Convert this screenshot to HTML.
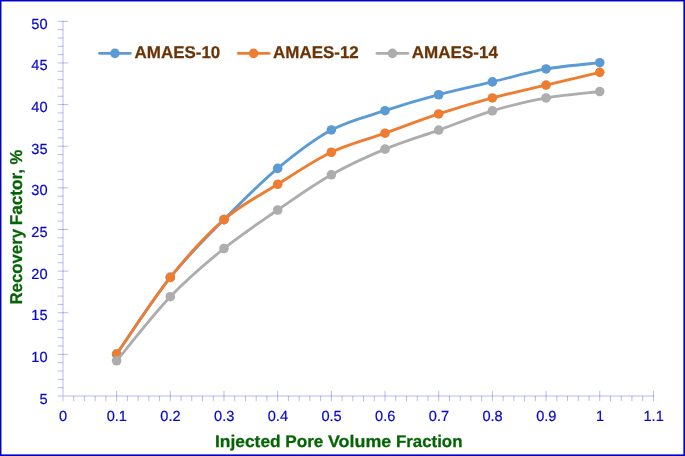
<!DOCTYPE html>
<html lang="en"><head><meta charset="utf-8"><title>Recovery Factor vs Injected Pore Volume Fraction</title>
<style>html,body{margin:0;padding:0;background:#fff;}body{width:685px;height:456px;overflow:hidden;}svg{display:block;}text{font-family:"Liberation Sans",sans-serif;text-rendering:geometricPrecision;}</style></head><body>
<svg width="685" height="456" viewBox="0 0 685 456">
<rect x="0" y="0" width="685" height="456" fill="#fff"/>
<g stroke="rgba(0,0,204,0.28)" stroke-width="1" fill="none">
<line x1="63.00" y1="20.83" x2="63.00" y2="395.50"/>
<line x1="62.50" y1="396.00" x2="653.93" y2="396.00"/>
<line x1="57.80" y1="396.00" x2="62.50" y2="396.00"/>
<line x1="57.80" y1="387.67" x2="63.00" y2="387.67"/>
<line x1="57.80" y1="379.35" x2="63.00" y2="379.35"/>
<line x1="57.80" y1="371.02" x2="63.00" y2="371.02"/>
<line x1="57.80" y1="362.70" x2="63.00" y2="362.70"/>
<line x1="57.80" y1="354.37" x2="68.30" y2="354.37"/>
<line x1="57.80" y1="346.04" x2="63.00" y2="346.04"/>
<line x1="57.80" y1="337.72" x2="63.00" y2="337.72"/>
<line x1="57.80" y1="329.39" x2="63.00" y2="329.39"/>
<line x1="57.80" y1="321.07" x2="63.00" y2="321.07"/>
<line x1="57.80" y1="312.74" x2="68.30" y2="312.74"/>
<line x1="57.80" y1="304.41" x2="63.00" y2="304.41"/>
<line x1="57.80" y1="296.09" x2="63.00" y2="296.09"/>
<line x1="57.80" y1="287.76" x2="63.00" y2="287.76"/>
<line x1="57.80" y1="279.44" x2="63.00" y2="279.44"/>
<line x1="57.80" y1="271.11" x2="68.30" y2="271.11"/>
<line x1="57.80" y1="262.78" x2="63.00" y2="262.78"/>
<line x1="57.80" y1="254.46" x2="63.00" y2="254.46"/>
<line x1="57.80" y1="246.13" x2="63.00" y2="246.13"/>
<line x1="57.80" y1="237.81" x2="63.00" y2="237.81"/>
<line x1="57.80" y1="229.48" x2="68.30" y2="229.48"/>
<line x1="57.80" y1="221.15" x2="63.00" y2="221.15"/>
<line x1="57.80" y1="212.83" x2="63.00" y2="212.83"/>
<line x1="57.80" y1="204.50" x2="63.00" y2="204.50"/>
<line x1="57.80" y1="196.18" x2="63.00" y2="196.18"/>
<line x1="57.80" y1="187.85" x2="68.30" y2="187.85"/>
<line x1="57.80" y1="179.52" x2="63.00" y2="179.52"/>
<line x1="57.80" y1="171.20" x2="63.00" y2="171.20"/>
<line x1="57.80" y1="162.87" x2="63.00" y2="162.87"/>
<line x1="57.80" y1="154.55" x2="63.00" y2="154.55"/>
<line x1="57.80" y1="146.22" x2="68.30" y2="146.22"/>
<line x1="57.80" y1="137.89" x2="63.00" y2="137.89"/>
<line x1="57.80" y1="129.57" x2="63.00" y2="129.57"/>
<line x1="57.80" y1="121.24" x2="63.00" y2="121.24"/>
<line x1="57.80" y1="112.92" x2="63.00" y2="112.92"/>
<line x1="57.80" y1="104.59" x2="68.30" y2="104.59"/>
<line x1="57.80" y1="96.26" x2="63.00" y2="96.26"/>
<line x1="57.80" y1="87.94" x2="63.00" y2="87.94"/>
<line x1="57.80" y1="79.61" x2="63.00" y2="79.61"/>
<line x1="57.80" y1="71.29" x2="63.00" y2="71.29"/>
<line x1="57.80" y1="62.96" x2="68.30" y2="62.96"/>
<line x1="57.80" y1="54.63" x2="63.00" y2="54.63"/>
<line x1="57.80" y1="46.31" x2="63.00" y2="46.31"/>
<line x1="57.80" y1="37.98" x2="63.00" y2="37.98"/>
<line x1="57.80" y1="29.66" x2="63.00" y2="29.66"/>
<line x1="57.80" y1="21.33" x2="68.30" y2="21.33"/>
<line x1="62.95" y1="396.50" x2="62.95" y2="401.20"/>
<line x1="73.69" y1="396.00" x2="73.69" y2="401.20"/>
<line x1="84.42" y1="396.00" x2="84.42" y2="401.20"/>
<line x1="95.16" y1="396.00" x2="95.16" y2="401.20"/>
<line x1="105.89" y1="396.00" x2="105.89" y2="401.20"/>
<line x1="116.63" y1="390.80" x2="116.63" y2="401.20"/>
<line x1="127.37" y1="396.00" x2="127.37" y2="401.20"/>
<line x1="138.10" y1="396.00" x2="138.10" y2="401.20"/>
<line x1="148.84" y1="396.00" x2="148.84" y2="401.20"/>
<line x1="159.57" y1="396.00" x2="159.57" y2="401.20"/>
<line x1="170.31" y1="390.80" x2="170.31" y2="401.20"/>
<line x1="181.05" y1="396.00" x2="181.05" y2="401.20"/>
<line x1="191.78" y1="396.00" x2="191.78" y2="401.20"/>
<line x1="202.52" y1="396.00" x2="202.52" y2="401.20"/>
<line x1="213.25" y1="396.00" x2="213.25" y2="401.20"/>
<line x1="223.99" y1="390.80" x2="223.99" y2="401.20"/>
<line x1="234.73" y1="396.00" x2="234.73" y2="401.20"/>
<line x1="245.46" y1="396.00" x2="245.46" y2="401.20"/>
<line x1="256.20" y1="396.00" x2="256.20" y2="401.20"/>
<line x1="266.93" y1="396.00" x2="266.93" y2="401.20"/>
<line x1="277.67" y1="390.80" x2="277.67" y2="401.20"/>
<line x1="288.41" y1="396.00" x2="288.41" y2="401.20"/>
<line x1="299.14" y1="396.00" x2="299.14" y2="401.20"/>
<line x1="309.88" y1="396.00" x2="309.88" y2="401.20"/>
<line x1="320.61" y1="396.00" x2="320.61" y2="401.20"/>
<line x1="331.35" y1="390.80" x2="331.35" y2="401.20"/>
<line x1="342.09" y1="396.00" x2="342.09" y2="401.20"/>
<line x1="352.82" y1="396.00" x2="352.82" y2="401.20"/>
<line x1="363.56" y1="396.00" x2="363.56" y2="401.20"/>
<line x1="374.29" y1="396.00" x2="374.29" y2="401.20"/>
<line x1="385.03" y1="390.80" x2="385.03" y2="401.20"/>
<line x1="395.77" y1="396.00" x2="395.77" y2="401.20"/>
<line x1="406.50" y1="396.00" x2="406.50" y2="401.20"/>
<line x1="417.24" y1="396.00" x2="417.24" y2="401.20"/>
<line x1="427.97" y1="396.00" x2="427.97" y2="401.20"/>
<line x1="438.71" y1="390.80" x2="438.71" y2="401.20"/>
<line x1="449.45" y1="396.00" x2="449.45" y2="401.20"/>
<line x1="460.18" y1="396.00" x2="460.18" y2="401.20"/>
<line x1="470.92" y1="396.00" x2="470.92" y2="401.20"/>
<line x1="481.65" y1="396.00" x2="481.65" y2="401.20"/>
<line x1="492.39" y1="390.80" x2="492.39" y2="401.20"/>
<line x1="503.13" y1="396.00" x2="503.13" y2="401.20"/>
<line x1="513.86" y1="396.00" x2="513.86" y2="401.20"/>
<line x1="524.60" y1="396.00" x2="524.60" y2="401.20"/>
<line x1="535.33" y1="396.00" x2="535.33" y2="401.20"/>
<line x1="546.07" y1="390.80" x2="546.07" y2="401.20"/>
<line x1="556.81" y1="396.00" x2="556.81" y2="401.20"/>
<line x1="567.54" y1="396.00" x2="567.54" y2="401.20"/>
<line x1="578.28" y1="396.00" x2="578.28" y2="401.20"/>
<line x1="589.01" y1="396.00" x2="589.01" y2="401.20"/>
<line x1="599.75" y1="390.80" x2="599.75" y2="401.20"/>
<line x1="610.49" y1="396.00" x2="610.49" y2="401.20"/>
<line x1="621.22" y1="396.00" x2="621.22" y2="401.20"/>
<line x1="631.96" y1="396.00" x2="631.96" y2="401.20"/>
<line x1="642.69" y1="396.00" x2="642.69" y2="401.20"/>
<line x1="653.43" y1="390.80" x2="653.43" y2="401.20"/>
</g>
<g fill="#0707cc" stroke="#0707cc" stroke-width="0.2" font-size="14.6">
<text transform="translate(47.5 403.50) scale(1 1)" text-anchor="end">5</text>
<text transform="translate(47.5 361.87) scale(1 1)" text-anchor="end">10</text>
<text transform="translate(47.5 320.24) scale(1 1)" text-anchor="end">15</text>
<text transform="translate(47.5 278.61) scale(1 1)" text-anchor="end">20</text>
<text transform="translate(47.5 236.98) scale(1 1)" text-anchor="end">25</text>
<text transform="translate(47.5 195.35) scale(1 1)" text-anchor="end">30</text>
<text transform="translate(47.5 153.72) scale(1 1)" text-anchor="end">35</text>
<text transform="translate(47.5 112.09) scale(1 1)" text-anchor="end">40</text>
<text transform="translate(47.5 70.46) scale(1 1)" text-anchor="end">45</text>
<text transform="translate(47.5 28.83) scale(1 1)" text-anchor="end">50</text>
<text transform="translate(63.15 421.3) scale(1 1)" text-anchor="middle">0</text>
<text transform="translate(116.83 421.3) scale(1 1)" text-anchor="middle">0.1</text>
<text transform="translate(170.51 421.3) scale(1 1)" text-anchor="middle">0.2</text>
<text transform="translate(224.19 421.3) scale(1 1)" text-anchor="middle">0.3</text>
<text transform="translate(277.87 421.3) scale(1 1)" text-anchor="middle">0.4</text>
<text transform="translate(331.55 421.3) scale(1 1)" text-anchor="middle">0.5</text>
<text transform="translate(385.23 421.3) scale(1 1)" text-anchor="middle">0.6</text>
<text transform="translate(438.91 421.3) scale(1 1)" text-anchor="middle">0.7</text>
<text transform="translate(492.59 421.3) scale(1 1)" text-anchor="middle">0.8</text>
<text transform="translate(546.27 421.3) scale(1 1)" text-anchor="middle">0.9</text>
<text transform="translate(599.95 421.3) scale(1 1)" text-anchor="middle">1</text>
<text transform="translate(653.63 421.3) scale(1 1)" text-anchor="middle">1.1</text>
</g>
<text y="446.9" font-size="16.8" font-weight="bold" fill="#056405" stroke="#056405" stroke-width="0.25"><tspan x="215.00" textLength="65.70" lengthAdjust="spacingAndGlyphs">Injected</tspan> <tspan x="285.30" textLength="38.10" lengthAdjust="spacingAndGlyphs">Pore</tspan> <tspan x="328.00" textLength="63.30" lengthAdjust="spacingAndGlyphs">Volume</tspan> <tspan x="395.90" textLength="66.60" lengthAdjust="spacingAndGlyphs">Fraction</tspan></text>
<text transform="translate(21.9 302.9) rotate(-90)" y="0" font-size="17.2" font-weight="bold" fill="#056405" stroke="#056405" stroke-width="0.25"><tspan x="-1.70" textLength="75.70" lengthAdjust="spacingAndGlyphs">Recovery</tspan> <tspan x="77.60" textLength="56.20" lengthAdjust="spacingAndGlyphs">Factor,</tspan> <tspan x="138.30" textLength="14.80" lengthAdjust="spacingAndGlyphs">%</tspan></text>
<path d="M116.63 354.10 C125.58 341.32 152.42 299.82 170.31 277.40 C188.20 254.98 206.10 237.77 223.99 219.60 C241.88 201.43 259.78 183.34 277.67 168.40 C295.56 153.46 313.46 139.59 331.35 129.97 C349.24 120.35 367.14 116.55 385.03 110.68 C402.92 104.81 420.82 99.54 438.71 94.74 C456.60 89.94 474.50 86.18 492.39 81.88 C510.28 77.58 528.18 72.15 546.07 68.95 C563.96 65.75 590.80 63.73 599.75 62.69" fill="none" stroke="#5b9bd5" stroke-width="2.85" stroke-linecap="round" stroke-linejoin="round"/>
<g fill="#5b9bd5"><circle cx="116.63" cy="354.10" r="4.8"/><circle cx="170.31" cy="277.40" r="4.8"/><circle cx="223.99" cy="219.60" r="4.8"/><circle cx="277.67" cy="168.40" r="4.8"/><circle cx="331.35" cy="129.97" r="4.8"/><circle cx="385.03" cy="110.68" r="4.8"/><circle cx="438.71" cy="94.74" r="4.8"/><circle cx="492.39" cy="81.88" r="4.8"/><circle cx="546.07" cy="68.95" r="4.8"/><circle cx="599.75" cy="62.69" r="4.8"/></g>
<path d="M116.63 354.10 C125.58 341.32 152.42 299.82 170.31 277.40 C188.20 254.98 206.10 235.12 223.99 219.60 C241.88 204.08 259.78 195.52 277.67 184.30 C295.56 173.08 313.46 160.78 331.35 152.26 C349.24 143.74 367.14 139.57 385.03 133.19 C402.92 126.81 420.82 119.84 438.71 113.97 C456.60 108.10 474.50 102.80 492.39 97.98 C510.28 93.16 528.18 89.31 546.07 85.04 C563.96 80.77 590.80 74.46 599.75 72.34" fill="none" stroke="#ed7d31" stroke-width="2.85" stroke-linecap="round" stroke-linejoin="round"/>
<g fill="#ed7d31"><circle cx="116.63" cy="354.10" r="4.8"/><circle cx="170.31" cy="277.40" r="4.8"/><circle cx="223.99" cy="219.60" r="4.8"/><circle cx="277.67" cy="184.30" r="4.8"/><circle cx="331.35" cy="152.26" r="4.8"/><circle cx="385.03" cy="133.19" r="4.8"/><circle cx="438.71" cy="113.97" r="4.8"/><circle cx="492.39" cy="97.98" r="4.8"/><circle cx="546.07" cy="85.04" r="4.8"/><circle cx="599.75" cy="72.34" r="4.8"/></g>
<path d="M116.63 360.76 C125.58 350.08 152.42 315.41 170.31 296.70 C188.20 277.99 206.10 262.95 223.99 248.50 C241.88 234.05 259.78 222.29 277.67 210.00 C295.56 197.71 313.46 184.91 331.35 174.77 C349.24 164.63 367.14 156.59 385.03 149.14 C402.92 141.69 420.82 136.46 438.71 130.07 C456.60 123.68 474.50 116.16 492.39 110.80 C510.28 105.44 528.18 101.14 546.07 97.93 C563.96 94.72 590.80 92.60 599.75 91.53" fill="none" stroke="#adadad" stroke-width="2.85" stroke-linecap="round" stroke-linejoin="round"/>
<g fill="#adadad"><circle cx="116.63" cy="360.76" r="4.8"/><circle cx="170.31" cy="296.70" r="4.8"/><circle cx="223.99" cy="248.50" r="4.8"/><circle cx="277.67" cy="210.00" r="4.8"/><circle cx="331.35" cy="174.77" r="4.8"/><circle cx="385.03" cy="149.14" r="4.8"/><circle cx="438.71" cy="130.07" r="4.8"/><circle cx="492.39" cy="110.80" r="4.8"/><circle cx="546.07" cy="97.93" r="4.8"/><circle cx="599.75" cy="91.53" r="4.8"/></g>
<line x1="99.50" y1="53.35" x2="130.25" y2="53.35" stroke="#5b9bd5" stroke-width="2.85" stroke-linecap="round"/>
<circle cx="114.90" cy="53.35" r="4.8" fill="#5b9bd5"/>
<text x="134.60" y="58.3" font-size="17" font-weight="bold" fill="#6a3406" stroke="#6a3406" stroke-width="0.25" textLength="85.70" lengthAdjust="spacingAndGlyphs">AMAES-10</text>
<line x1="238.25" y1="53.35" x2="269.10" y2="53.35" stroke="#ed7d31" stroke-width="2.85" stroke-linecap="round"/>
<circle cx="253.60" cy="53.35" r="4.8" fill="#ed7d31"/>
<text x="273.10" y="58.3" font-size="17" font-weight="bold" fill="#6a3406" stroke="#6a3406" stroke-width="0.25" textLength="85.70" lengthAdjust="spacingAndGlyphs">AMAES-12</text>
<line x1="377.00" y1="53.35" x2="407.90" y2="53.35" stroke="#adadad" stroke-width="2.85" stroke-linecap="round"/>
<circle cx="392.40" cy="53.35" r="4.8" fill="#adadad"/>
<text x="411.80" y="58.3" font-size="17" font-weight="bold" fill="#6a3406" stroke="#6a3406" stroke-width="0.25" textLength="86.10" lengthAdjust="spacingAndGlyphs">AMAES-14</text>
<rect x="0" y="0" width="685" height="1.45" fill="#0000c8"/>
<rect x="0" y="0" width="1.45" height="456" fill="#0000c8"/>
<rect x="683.4" y="0" width="1.6" height="456" fill="#0000c8"/>
<rect x="0" y="454.4" width="685" height="1.6" fill="#0000c8"/>
</svg></body></html>
